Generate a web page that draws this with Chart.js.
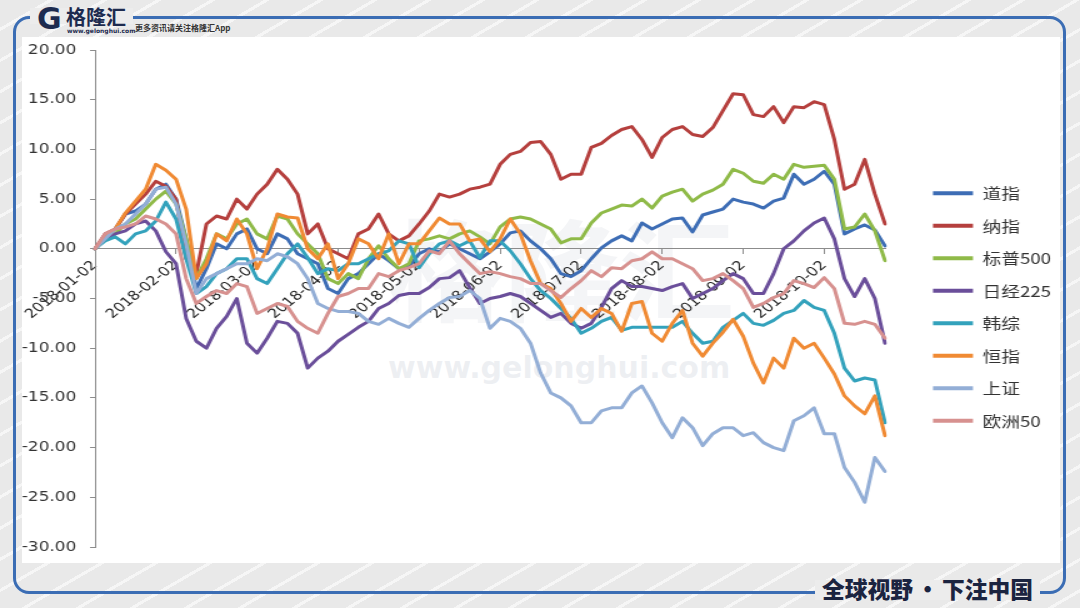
<!DOCTYPE html>
<html>
<head>
<meta charset="utf-8">
<script src="https://cdn.jsdelivr.net/npm/chart.js@4.4.0/dist/chart.umd.min.js"></script>
<style>
html,body{margin:0;padding:0;}
body{width:1080px;height:608px;position:relative;overflow:hidden;
  font-family:"Noto Sans CJK SC","DejaVu Sans",sans-serif;
  background:#ececec repeating-linear-gradient(150deg,#e9e9e9 0px,#e9e9e9 24px,#f6f6f6 24px,#f6f6f6 27px);}
#panel{position:absolute;left:22px;top:37px;width:1038px;height:526px;background:#fff;}
#frame{position:absolute;left:13px;top:16px;width:1053px;height:578px;border:3px solid #3b6db4;border-radius:16px;box-sizing:border-box;}
#toppatch{position:absolute;left:30px;top:8px;width:103px;height:16px;background:#ececec;}
#botpatch{position:absolute;left:815px;top:580px;width:225px;height:20px;background:#ececec;}
#logoG{position:absolute;left:37px;top:4px;font:bold 30px "DejaVu Sans",sans-serif;color:#1d2b4f;line-height:30px;}
#logoT{position:absolute;left:66px;top:6px;font:bold 20px "Noto Sans CJK SC";color:#1d2b4f;line-height:22px;}
#logoW{position:absolute;left:67px;top:28px;font:bold 6px "DejaVu Sans";color:#1d2b4f;line-height:6px;}
#tip{position:absolute;left:135px;top:23px;font:bold 8px "Noto Sans CJK SC";color:#333;line-height:10px;}
#footer{position:absolute;left:822px;top:574px;font:900 22.75px "Noto Sans CJK SC";color:#1b2440;line-height:30px;white-space:nowrap;}
#footer .dot{display:inline-block;width:29px;text-align:center;}
#wm1{position:absolute;left:388px;top:200px;font:bold 110px "Noto Sans CJK SC";color:rgba(205,210,220,0.22);line-height:130px;white-space:nowrap;transform:scaleX(1.05);transform-origin:left top;}
#wm2{position:absolute;left:388px;top:350px;font:bold 30px "DejaVu Sans";color:rgba(205,210,220,0.35);line-height:36px;white-space:nowrap;}
canvas{position:absolute;left:0;top:0;}
</style>
</head>
<body>
<div id="panel"></div>
<div id="frame"></div>
<div id="toppatch"></div>
<div id="botpatch"></div>
<div id="logoG">G</div>
<div id="logoT">格隆汇</div>
<div id="logoW">www.gelonghui.com</div>
<div id="tip">更多资讯请关注格隆汇App</div>
<div id="footer">全球视野<span class="dot">•</span>下注中国</div>
<div id="wm1">格隆汇</div>
<div id="wm2">www.gelonghui.com</div>
<canvas id="c" width="864" height="608" style="width:1080px;height:608px;"></canvas>
<script>
// ---- data ----
const labels = [
 '2018-01-02','2018-01-06','2018-01-10','2018-01-14','2018-01-18','2018-01-22','2018-01-26','2018-01-29',
 '2018-02-02','2018-02-06','2018-02-09','2018-02-13','2018-02-16','2018-02-20','2018-02-23','2018-02-27',
 '2018-03-02','2018-03-06','2018-03-10','2018-03-14','2018-03-18','2018-03-22','2018-03-26','2018-03-29',
 '2018-04-02','2018-04-06','2018-04-10','2018-04-14','2018-04-18','2018-04-22','2018-04-26','2018-04-29',
 '2018-05-02','2018-05-06','2018-05-10','2018-05-14','2018-05-18','2018-05-22','2018-05-26','2018-05-29',
 '2018-06-02','2018-06-06','2018-06-10','2018-06-14','2018-06-18','2018-06-22','2018-06-26','2018-06-29',
 '2018-07-02','2018-07-06','2018-07-10','2018-07-14','2018-07-18','2018-07-22','2018-07-26','2018-07-29',
 '2018-08-02','2018-08-06','2018-08-10','2018-08-14','2018-08-18','2018-08-22','2018-08-26','2018-08-29',
 '2018-09-02','2018-09-06','2018-09-10','2018-09-14','2018-09-18','2018-09-22','2018-09-26','2018-09-29',
 '2018-10-02','2018-10-06','2018-10-10','2018-10-14','2018-10-18','2018-10-22','2018-10-26'
];
const tickLabels = ['2018-01-02','2018-02-02','2018-03-02','2018-04-02','2018-05-02',
                    '2018-06-02','2018-07-02','2018-08-02','2018-09-02','2018-10-02'];
const seriesNames = ['道指','纳指','标普500','日经225','韩综','恒指','上证','欧洲50'];

const dow = [0,1.2,2.0,3.5,3.8,4.5,6.0,6.5, 5.0,1.0,-4.0,-2.0,0.5,0.0,1.5,2.0, 0.0,-0.5,1.5,1.0,-0.5,-1.0,-1.5,-4.0,
 -4.5,-3.0,-2.5,-1.5,-0.5,-1.2,-2.0,-1.8, -0.5,0.0,-0.3,0.5,0.0,-0.5,-1.0,-0.3, 0.5,1.6,1.8,0.8,0.0,-1.0,-2.5,-2.8,
 -2.2,-1.0,0.1,0.8,1.3,0.8,2.6,2.0, 2.5,3.0,3.1,1.7,3.4,3.7,4.0,5.0, 4.7,4.5,4.1,4.8,5.1,7.5,6.5,7.0,
 7.8,6.5,1.5,2.0,2.4,1.9,0.3];
const nasdaq = [0,1.5,2.0,3.5,4.5,5.5,6.8,6.3, 5.0,-1.0,-2.5,2.5,3.3,3.0,5.0,4.0, 5.5,6.5,8.0,7.0,5.5,1.5,2.5,0.0,
 -0.5,-1.0,1.5,2.0,3.5,1.5,0.8,1.3, 2.5,3.8,5.5,5.2,5.5,6.0,6.2,6.5, 8.5,9.5,9.8,10.7,10.8,9.5,7.0,7.5,
 7.5,10.2,10.6,11.4,12.0,12.3,11.0,9.2, 11.2,12.0,12.3,11.5,11.3,12.2,13.9,15.6, 15.5,13.5,13.3,14.3,12.7,14.3,14.2,14.8,
 14.5,11.0,6.0,6.5,9.0,5.5,2.5];
const sp500 = [0,1.0,1.5,2.5,3.0,4.0,5.0,5.8, 4.5,1.0,-3.0,-1.0,1.5,1.0,2.5,3.0, 1.5,1.0,3.3,3.0,1.5,0.5,-0.5,-3.0,
 -3.5,-2.5,-3.0,-1.0,0.3,-1.0,-2.0,-1.5, 0.8,1.0,1.3,1.0,1.5,1.8,1.2,0.5, 2.2,3.0,3.2,3.0,2.5,2.0,0.6,1.0,
 1.0,2.6,3.6,4.0,4.4,4.3,5.0,4.1, 5.3,5.7,6.0,4.8,5.5,5.9,6.5,8.0, 7.6,6.8,6.6,7.5,7.0,8.5,8.2,8.3,
 8.4,7.0,2.0,2.2,3.5,1.8,-1.2];
const nikkei = [0,1.0,1.5,1.8,2.5,2.8,1.8,-0.3, -1.5,-7.0,-9.3,-10.0,-8.0,-6.8,-5.0,-9.5, -10.5,-9.0,-7.3,-7.5,-8.5,-12.0,-11.0,-10.3,
 -9.3,-8.6,-7.9,-7.3,-6.0,-5.5,-4.7,-4.5, -4.5,-3.9,-3.0,-2.9,-2.2,-3.9,-5.5,-5.0, -4.8,-4.5,-4.8,-5.5,-6.2,-6.9,-6.5,-7.5,
 -8.0,-7.5,-5.9,-4.0,-3.2,-3.8,-3.8,-4.0, -4.2,-3.8,-3.5,-5.0,-4.5,-4.0,-3.2,-2.5, -3.0,-4.5,-4.5,-2.5,0.0,0.8,1.8,2.6,
 3.1,1.0,-3.0,-4.8,-3.0,-5.0,-9.5];
const kospi = [0,0.8,1.2,0.5,1.5,1.8,2.8,4.7, 3.0,-1.0,-4.5,-3.8,-2.5,-2.0,-1.0,-1.0, -3.0,-3.5,-2.0,-0.5,0.5,-0.9,-2.5,-2.0,
 -2.2,-1.5,-1.5,-1.0,-0.5,-0.2,0.8,0.5, -1.9,-0.5,0.5,0.8,0.3,0.8,-0.9,0.8, 0.8,-0.2,-1.5,-3.0,-4.2,-5.0,-6.0,-7.0,
 -8.5,-8.0,-7.3,-6.9,-8.2,-7.9,-7.9,-7.9, -7.9,-7.9,-7.3,-8.5,-9.5,-9.3,-7.9,-7.2, -6.5,-7.5,-7.7,-7.2,-6.5,-6.2,-5.2,-5.9,
 -6.2,-8.5,-12.0,-13.3,-13.0,-13.2,-17.5];
const hsi = [0,1.1,2.0,3.6,4.8,6.0,8.5,7.9, 7.0,4.0,-3.0,-1.5,1.5,0.8,3.0,1.5, -2.0,0.0,3.5,3.2,3.1,0.0,-1.0,0.5,
 -3.0,-1.5,1.0,0.5,-1.0,1.5,-1.5,0.5, 0.5,1.8,3.1,2.5,2.5,0.8,1.0,-0.3, 1.0,3.0,1.5,-1.2,-3.5,-4.0,-5.5,-7.3,
 -6.0,-6.9,-6.0,-6.5,-8.3,-5.5,-5.3,-8.5, -9.3,-7.5,-6.2,-9.5,-10.8,-9.5,-8.4,-7.1, -8.8,-11.5,-13.5,-11.0,-12.0,-9.0,-10.0,-9.5,
 -11.0,-12.6,-14.8,-15.8,-16.6,-14.8,-18.8];
const shanghai = [0,1.0,2.0,2.5,3.5,4.5,6.0,6.2, 4.5,0.5,-4.5,-3.0,-2.5,-2.0,-1.5,-1.5, -1.0,-1.2,-0.5,-0.8,-1.5,-3.0,-5.5,-6.0,
 -6.3,-6.3,-6.5,-7.3,-7.6,-7.0,-7.5,-7.9, -7.0,-6.2,-5.5,-4.9,-4.8,-4.2,-5.0,-8.0, -7.0,-7.3,-8.0,-9.5,-12.5,-14.5,-15.0,-15.8,
 -17.5,-17.5,-16.3,-16.0,-16.0,-14.5,-13.8,-15.5, -17.5,-19.0,-17.0,-18.0,-19.8,-18.6,-18.0,-18.0, -18.8,-18.5,-19.5,-20.0,-20.3,-17.3,-16.8,-16.0,
 -18.6,-18.6,-22.0,-23.5,-25.5,-21.0,-22.4];
const euro50 = [0,1.5,2.0,2.2,2.5,3.3,3.0,2.5, 1.5,-3.0,-5.5,-4.8,-4.2,-4.5,-3.5,-3.8, -6.5,-6.0,-5.5,-5.8,-7.3,-8.0,-8.5,-6.5,
 -4.8,-4.5,-4.0,-4.0,-2.5,-2.8,-2.2,-1.9, -1.5,-0.2,-0.5,0.8,-0.5,-1.5,-2.5,-2.3, -2.5,-2.8,-3.0,-3.5,-3.5,-4.2,-4.9,-4.0,
 -3.2,-2.2,-2.8,-1.9,-2.0,-1.2,-1.0,-0.3, -1.0,-1.0,-1.5,-2.0,-3.2,-3.0,-2.5,-3.2, -4.0,-5.9,-5.5,-4.9,-4.5,-3.2,-3.5,-3.9,
 -2.9,-4.0,-7.5,-7.6,-7.3,-7.6,-9.0];

// ---- styles ----
const colors = ['#3d6db5','#b53f3d','#8fba48','#6a4e9a','#33a2bc','#f08a33','#93aed6','#d7918f'];
const values = [dow, nasdaq, sp500, nikkei, kospi, hsi, shanghai, euro50];

const datasets = values.map((d, i) => ({
  label: seriesNames[i], data: d,
  borderColor: colors[i], backgroundColor: colors[i],
  borderWidth: 3, pointRadius: 0, pointHoverRadius: 0, tension: 0, fill: false,
  borderJoinStyle: 'round', borderCapStyle: 'round',
  order: values.length - 1 - i
}));

const TARGET_RIGHT = 708;      // canvas units (display 885)
const LEGEND_X = 746.4;        // canvas units (display 933)
const LEGEND_Y = 185.8;

const legendPlace = {
  id: 'legendPlace',
  afterLayout(chart) {
    const lg = chart.legend;
    if (!lg) return;
    const pad = lg.options.labels.padding;
    const w = lg.width, h = lg.height;
    lg.left = LEGEND_X - pad; lg.right = lg.left + w;
    lg.top = LEGEND_Y - pad; lg.bottom = lg.top + h;
  }
};

const chart = new Chart(document.getElementById('c'), {
  type: 'line',
  data: { labels, datasets },
  plugins: [legendPlace],
  options: {
    responsive: false, animation: false, devicePixelRatio: 1,
    layout: { padding: { left: 0, top: 50, right: 30, bottom: 61 } },
    plugins: {
      tooltip: { enabled: false },
      legend: {
        position: 'right', align: 'start',
        labels: {
          boxWidth: 32, boxHeight: 4, padding: 17.5, color: '#333',
          font: { family: '"Noto Sans CJK SC"', size: 15 },
          sort: (a, b) => a.datasetIndex - b.datasetIndex,
          generateLabels: (ch) => Chart.defaults.plugins.legend.labels.generateLabels(ch)
                                   .map(l => Object.assign(l, { lineWidth: 0 }))
        }
      }
    },
    scales: {
      x: {
        type: 'category', position: { y: 0 },
        grid: { drawOnChartArea: false, drawTicks: true, tickLength: 5, color: '#8c8c8c' },
        border: { color: '#8c8c8c', width: 1 },
        ticks: { autoSkip: false, minRotation: 45, maxRotation: 45, color: '#222', padding: 4,
                 font: { family: '"DejaVu Sans"', size: 13 } },
        afterBuildTicks: (s) => { s.ticks = s.ticks.filter(t => tickLabels.includes(labels[t.value])); },
        afterFit: (s) => { s.height = 0; }
      },
      y: {
        min: -30, max: 20,
        ticks: { stepSize: 5, callback: (v) => Number(v).toFixed(2), color: '#333', padding: 11,
                 font: { family: '"DejaVu Sans"', size: 13.5 } },
        grid: { drawOnChartArea: false, tickLength: 4, color: '#8c8c8c' },
        border: { color: '#8c8c8c', width: 1 },
        afterFit: (s) => { s.width = 76; }
      }
    }
  }
});

const diff = chart.chartArea.right - TARGET_RIGHT;
if (Math.abs(diff) > 0.1) {
  chart.options.layout.padding = { left: 0, top: 50, right: 30 + diff, bottom: 61 };
  chart.update('none');
}
</script>
</body>
</html>
